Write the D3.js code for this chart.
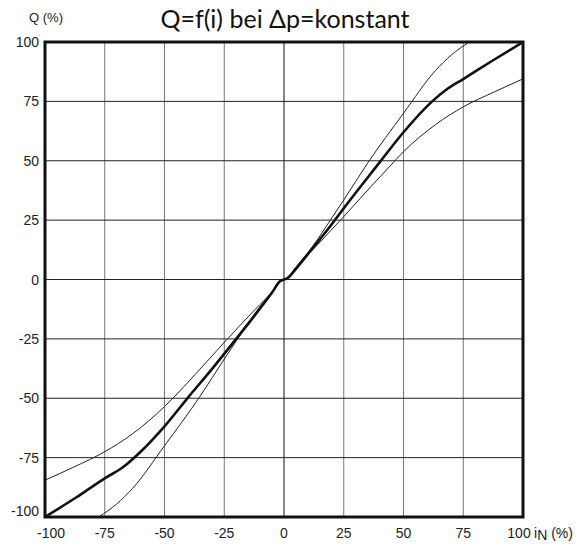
<!DOCTYPE html>
<html>
<head>
<meta charset="utf-8">
<script src="https://cdn.jsdelivr.net/npm/d3@7"></script>
<style>
  body { margin: 0; background: #fff; }
  svg { display: block; }
  .tick-label { font-family: "Liberation Sans", Arial, sans-serif; font-size: 14px; fill: #222; }
  .title { font-family: Lato, "Open Sans", sans-serif; font-size: 25px; fill: #111; }
</style>
</head>
<body>
<svg id="chart" width="584" height="544"></svg>
<script>
// Werte: [i (%), Q (%)]
const xTicks = [-100, -75, -50, -25, 0, 25, 50, 75, 100];
const yTicks = [-100, -75, -50, -25, 0, 25, 50, 75, 100];

// mittlere (dicke) Kennlinie
const curveMid = [
    [-100, -100], [-87, -91.8], [-75, -83.7], [-68, -79.5], [-60, -72.5], [-50, -61.8],
    [-40, -49.5], [-30, -37.5], [-20, -25], [-12, -14.8], [-5, -5.5], [-1.5, -0.6],
    [0, 0], [1.5, 0.6], [5, 4.5], [12, 13.2], [19.5, 22.6], [25, 30], [40, 49.3],
    [50, 62], [62, 75], [68, 80], [75, 84.4], [87, 92], [100, 100]
];

// Kennlinie A (links flach, rechts steil)
const curveA = [
    [-100, -84.5], [-88, -79], [-75, -72.5], [-63.4, -65], [-50, -53.5], [-44.4, -47.8],
    [-37, -39.8], [-25, -26.5], [-12, -12.5], [-5, -5.2], [-1.5, -0.6], [0, 0],
    [1.5, 0.6], [5, 5.2], [12, 14], [19.4, 25], [25, 33.5], [35, 49], [50, 70],
    [63.4, 88], [70, 94.5], [77.5, 100]
];

// Kennlinie B (links steil, rechts flach)
const curveB = [
    [-77.5, -100], [-70, -94.5], [-63.4, -88], [-50, -70], [-35, -49], [-25, -33.5],
    [-19.4, -25], [-12, -14], [-5, -5.2], [-1.5, -0.6], [0, 0], [1.5, 0.6],
    [5, 5.2], [12, 12.5], [25, 26.5], [37, 39.8], [44.4, 47.8], [50, 53.8],
    [63.4, 65.2], [75, 72.7], [88, 79], [100, 84.5]
];

const svg = d3.select('#chart');
const plot = { left: 45, right: 523, top: 42, bottom: 517 };

const x = d3.scaleLinear().domain([-100, 100]).range([plot.left, plot.right]);
const y = d3.scaleLinear().domain([-100, 100]).range([plot.bottom, plot.top]);

// Gitter
svg.append('g')
    .selectAll('line')
    .data(xTicks.slice(1, -1))
    .join('line')
    .attr('x1', d => x(d)).attr('x2', d => x(d))
    .attr('y1', plot.top).attr('y2', plot.bottom)
    .attr('stroke', d => d === 0 ? '#111' : '#777')
    .attr('stroke-width', 1);

svg.append('g')
    .selectAll('line')
    .data(yTicks.slice(1, -1))
    .join('line')
    .attr('x1', plot.left).attr('x2', plot.right)
    .attr('y1', d => y(d)).attr('y2', d => y(d))
    .attr('stroke', '#222')
    .attr('stroke-width', 1);

// Kurven
const line = d3.line()
    .x(d => x(d[0]))
    .y(d => y(d[1]))
    .curve(d3.curveMonotoneX);

svg.append('path')
    .datum(curveA)
    .attr('fill', 'none')
    .attr('stroke', '#222')
    .attr('stroke-width', 1)
    .attr('d', line);

svg.append('path')
    .datum(curveB)
    .attr('fill', 'none')
    .attr('stroke', '#222')
    .attr('stroke-width', 1)
    .attr('d', line);

svg.append('path')
    .datum(curveMid)
    .attr('fill', 'none')
    .attr('stroke', '#111')
    .attr('stroke-width', 2.6)
    .attr('d', line);

// Rahmen
svg.append('rect')
    .attr('x', plot.left).attr('y', plot.top)
    .attr('width', plot.right - plot.left).attr('height', plot.bottom - plot.top)
    .attr('fill', 'none')
    .attr('stroke', '#111')
    .attr('stroke-width', 3);

// Achsenbeschriftung
svg.append('g')
    .selectAll('text')
    .data(xTicks)
    .join('text')
    .attr('class', 'tick-label')
    .attr('x', (d, i) => x(d) + (i === 0 ? 6 : (i === xTicks.length - 1 ? -4 : 0)))
    .attr('y', plot.bottom + 21)
    .attr('text-anchor', 'middle')
    .text(d => d);

svg.append('g')
    .selectAll('text')
    .data(yTicks)
    .join('text')
    .attr('class', 'tick-label')
    .attr('x', plot.left - 6)
    .attr('y', d => y(d) + (d === -100 ? -1 : 5))
    .attr('text-anchor', 'end')
    .text(d => d);

const xl = svg.append('text')
    .attr('class', 'tick-label')
    .attr('x', 534)
    .attr('y', plot.bottom + 21);
xl.append('tspan').text('i');
xl.append('tspan').attr('dy', 2).text('N');
xl.append('tspan').attr('dy', -2).text(' (%)');

svg.append('text')
    .attr('class', 'tick-label')
    .attr('x', 46)
    .attr('y', 22)
    .attr('text-anchor', 'middle')
    .style('font-size', '13px')
    .text('Q (%)');

svg.append('text')
    .attr('class', 'title')
    .attr('x', 285)
    .attr('y', 28)
    .attr('text-anchor', 'middle')
    .text('Q=f(i) bei \u0394p=konstant');
</script>
</body>
</html>
